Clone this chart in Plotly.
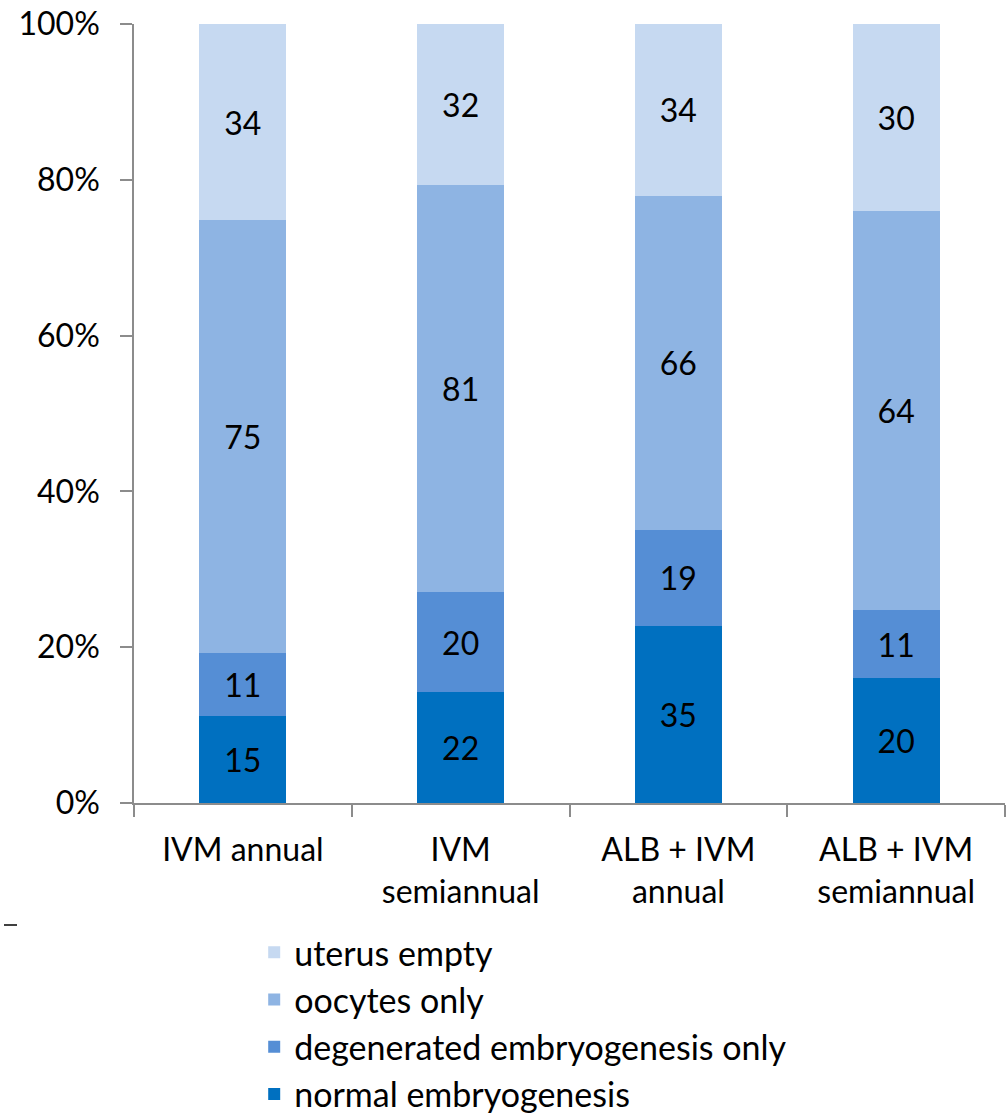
import plotly.graph_objects as go

# Treatment groups (x-axis categories)
groups = ["IVM annual", "IVM<br>semiannual", "ALB + IVM<br>annual", "ALB + IVM<br>semiannual"]

# Worm counts per outcome in each group
normal_embryogenesis = [15, 22, 35, 20]
degenerated_embryogenesis = [11, 20, 19, 11]
oocytes_only = [75, 81, 66, 64]
uterus_empty = [34, 32, 34, 30]

series = [
    ("normal embryogenesis", normal_embryogenesis, "#0070C0", 4),
    ("degenerated embryogenesis only", degenerated_embryogenesis, "#558ED5", 3),
    ("oocytes only", oocytes_only, "#8EB4E3", 2),
    ("uterus empty", uterus_empty, "#C6D9F1", 1),
]

FONT = "Lato, Carlito, Calibri, sans-serif"
FS = 32

fig = go.Figure()
for name, vals, color, rank in series:
    fig.add_trace(go.Bar(
        x=groups, y=vals, name=name,
        marker=dict(color=color, line=dict(width=0)),
        text=[str(v) for v in vals],
        textposition="inside", insidetextanchor="middle",
        textfont=dict(family=FONT, size=FS, color="#000000"),
        legendgroup=name, legendrank=rank,
    ))

fig.update_layout(
    barmode="stack", barnorm="percent", bargap=0.6,
    width=1008, height=1115,
    margin=dict(l=134, r=3, t=24, b=312, autoexpand=False),
    plot_bgcolor="white", paper_bgcolor="white",
    font=dict(family=FONT, size=FS, color="#000000"),
    legend=dict(
        traceorder="grouped", tracegroupgap=0,
        x=0.138, xanchor="left", y=-0.155, yanchor="top",
        font=dict(family=FONT, size=34),
        itemsizing="constant", bgcolor="rgba(0,0,0,0)",
    ),
    showlegend=True,
)
fig.update_yaxes(
    range=[0, 100], tickvals=[0, 20, 40, 60, 80, 100],
    ticktext=["0%", "20%", "40%", "60%", "80%", "100%"],
    showgrid=False, zeroline=False,
    showline=True, linecolor="#8C8C8C", linewidth=1.5,
    ticks="outside", ticklen=12, tickcolor="#8C8C8C", tickwidth=1.5,
    ticklabelstandoff=14,
    tickfont=dict(family=FONT, size=FS),
)
fig.update_xaxes(
    showgrid=False, showline=True, linecolor="#8C8C8C", linewidth=1.5,
    ticks="outside", tickson="boundaries", ticklen=12,
    tickcolor="#8C8C8C", tickwidth=1.5,
    ticklabelstandoff=18,
    tickfont=dict(family=FONT, size=FS),
)
# small dash at the left edge below the axis
fig.add_shape(type="line", xref="paper", yref="paper",
              x0=(4 - 134) / 871, x1=(17 - 134) / 871,
              y0=(803 - 925) / 779, y1=(803 - 925) / 779,
              line=dict(color="#000000", width=1.5))

fig.write_html("out.html")
